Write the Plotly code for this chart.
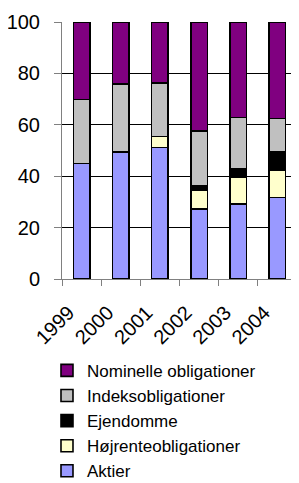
import plotly.graph_objects as go

years = ["1999", "2000", "2001", "2002", "2003", "2004"]
aktier = [45.0, 49.5, 51.2, 27.2, 29.1, 31.7]
hojrente = [0.0, 0.0, 4.2, 7.3, 10.6, 10.7]
ejendomme = [0.0, 0.0, 0.0, 1.8, 3.3, 7.0]
indeks = [24.8, 26.4, 20.8, 21.4, 19.8, 13.0]
nominelle = [30.2, 24.1, 23.8, 42.3, 37.2, 37.6]

series = [
    ("Aktier", aktier, "#9999FF"),
    ("Højrenteobligationer", hojrente, "#FFFFCC"),
    ("Ejendomme", ejendomme, "#000000"),
    ("Indeksobligationer", indeks, "#C0C0C0"),
    ("Nominelle obligationer", nominelle, "#800080"),
]

fig = go.Figure()
for name, vals, col in series:
    fig.add_trace(go.Bar(
        x=years, y=vals, name=name,
        marker=dict(color=col, line=dict(color="#000000", width=1.6)),
        width=0.42,
    ))

font = dict(family="Liberation Sans, Arial, sans-serif", size=20, color="#000000")

fig.update_layout(
    barmode="stack",
    width=291, height=475,
    margin=dict(l=54, r=2, t=14, b=204, autoexpand=False),
    paper_bgcolor="white", plot_bgcolor="white",
    font=font,
    showlegend=True,
    legend=dict(
        traceorder="reversed",
        xref="container", yref="container",
        x=0.134, xanchor="left",
        y=0.274, yanchor="top",
        font=dict(family="Liberation Sans, Arial, sans-serif", size=17, color="#000000"),
        itemwidth=30,
        tracegroupgap=0,
        bgcolor="rgba(0,0,0,0)",
    ),
    xaxis=dict(
        type="category",
        automargin=False,
        showline=True, linecolor="#808080", linewidth=1,
        ticks="outside", tickson="boundaries", ticklen=6, tickcolor="#808080",
        tickangle=-45,
        ticklabelstandoff=13,
        ticklabelshift=-13,
        showgrid=False,
        tickfont=font,
    ),
    yaxis=dict(
        automargin=False,
        range=[0, 100], tickvals=[0, 20, 40, 60, 80, 100],
        showline=True, linecolor="#808080", linewidth=1,
        ticks="outside", ticklen=7, tickcolor="#808080",
        showgrid=True, gridcolor="#000000", gridwidth=1,
        zeroline=False,
        tickfont=font,
        ticklabelstandoff=10,
    ),
)

fig.write_html("out.html")
